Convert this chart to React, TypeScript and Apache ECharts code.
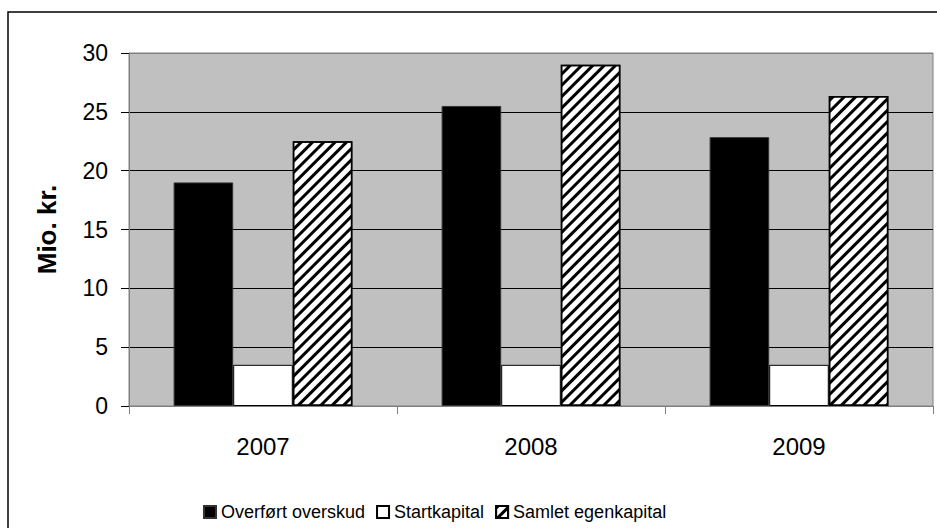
import React, { useEffect, useRef } from "react";
import * as echarts from "echarts";

const years = ["2007", "2008", "2009"];
const overfoertOverskud = [19.0, 25.5, 22.85];
const startkapital = [3.5, 3.5, 3.5];
const samletEgenkapital = [22.5, 29.0, 26.35];
const yTicks = { min: 0, max: 30, interval: 5 };

export default function App() {
  const ref = useRef<HTMLDivElement>(null);
  useEffect(() => {
    const chart = echarts.init(ref.current!, null, { renderer: "svg" });
    const font = "'Liberation Sans', Arial, sans-serif";
    chart.setOption({
      animation: false,
      backgroundColor: "#ffffff",
      graphic: [
        {
          type: "rect",
          z: -10,
          silent: true,
          shape: { x: 8, y: 12, width: 940, height: 530 },
          style: { fill: "#ffffff", stroke: "#000000", lineWidth: 1.5 },
        },
      ],
      grid: {
        left: 129,
        top: 53,
        right: 4,
        bottom: 122,
        show: true,
        backgroundColor: "#C0C0C0",
        borderColor: "#808080",
        borderWidth: 1,
        containLabel: false,
      },
      legend: {
        left: 203,
        top: 503,
        padding: 0,
        itemWidth: 12,
        itemHeight: 12,
        itemGap: 11,
        icon: "rect",
        textStyle: {
          fontFamily: font,
          fontSize: 18,
          color: "#000",
        },
        data: ["Overført overskud", "Startkapital", "Samlet egenkapital"],
      },
      xAxis: {
        type: "category",
        data: years,
        axisLine: { show: true, lineStyle: { color: "#808080", width: 1 } },
        axisTick: { show: true, length: 8, lineStyle: { color: "#808080" } },
        axisLabel: { fontFamily: font, fontSize: 24, color: "#000", margin: 28 },
      },
      yAxis: {
        type: "value",
        min: yTicks.min,
        max: yTicks.max,
        interval: yTicks.interval,
        name: "Mio. kr.",
        nameLocation: "middle",
        nameRotate: 90,
        nameGap: 69,
        nameTextStyle: { fontFamily: font, fontSize: 26, fontWeight: "bold", color: "#000" },
        axisLine: { show: true, lineStyle: { color: "#808080", width: 1 } },
        axisTick: { show: true, inside: false, length: 8, lineStyle: { color: "#000" } },
        axisLabel: { fontFamily: font, fontSize: 23, color: "#000", margin: 21 },
        splitLine: {
          show: true,
          lineStyle: {
            color: ["#808080", "#000", "#000", "#000", "#000", "#000", "#808080"],
            width: 1,
          },
        },
      },
      series: [
        {
          name: "Overført overskud",
          type: "bar",
          data: overfoertOverskud,
          barGap: "0%",
          barCategoryGap: "33.3%",
          itemStyle: { color: "#000", borderColor: "#333", borderWidth: 1 },
        },
        {
          name: "Startkapital",
          type: "bar",
          data: startkapital,
          itemStyle: { color: "#fff", borderColor: "#000", borderWidth: 1 },
        },
        {
          name: "Samlet egenkapital",
          type: "bar",
          data: samletEgenkapital,
          itemStyle: {
            color: "#fff",
            borderColor: "#000",
            borderWidth: 1.5,
            decal: {
              symbol: "rect",
              symbolSize: 1,
              color: "#000",
              dashArrayX: [1, 0],
              dashArrayY: [3, 4.5],
              rotation: -Math.PI / 4,
            },
          },
        },
      ],
    });
    return () => chart.dispose();
  }, []);
  return (
    <div
      ref={ref}
      style={{ position: "absolute", left: 0, top: 0, width: 937, height: 528 }}
    />
  );
}
